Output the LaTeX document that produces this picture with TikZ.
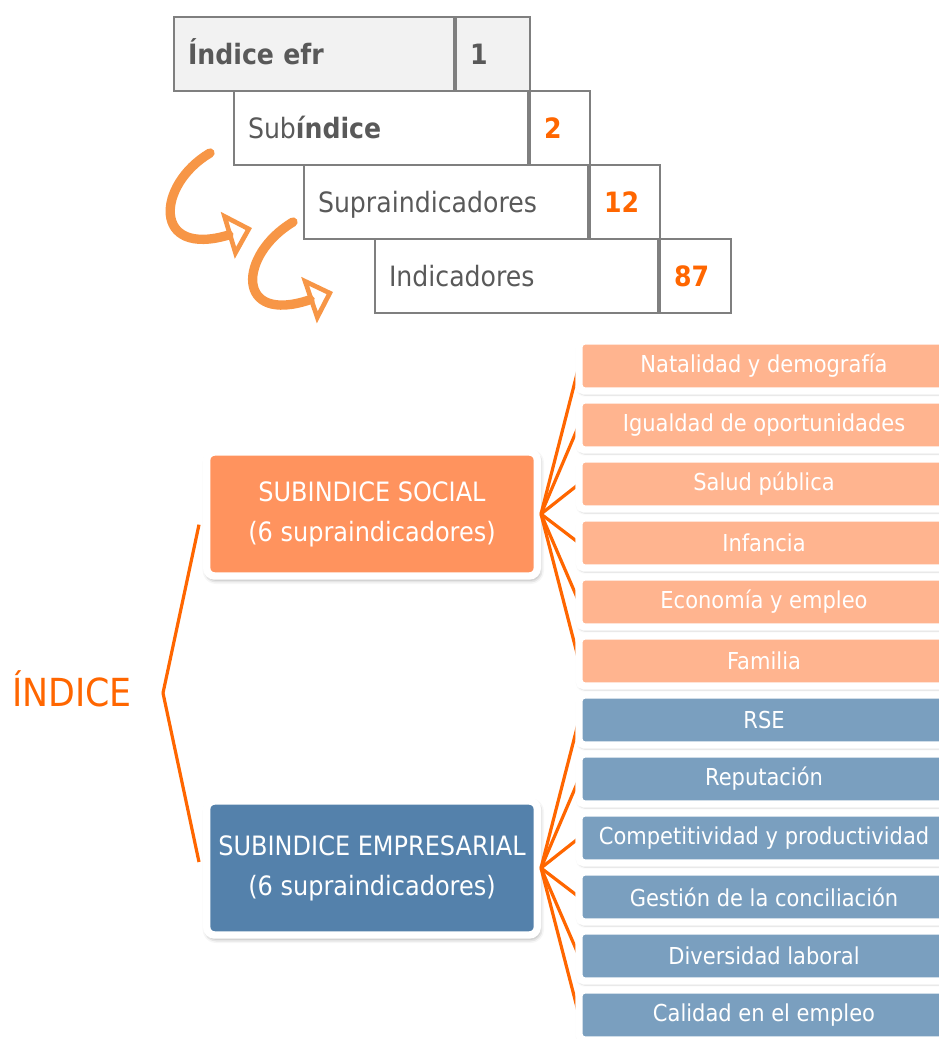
\documentclass[tikz,border=0pt]{standalone}
\usepackage{fontspec}
\setmainfont{DejaVu Sans}[FakeStretch=0.9]
\usetikzlibrary{positioning}
\usetikzlibrary{arrows.meta}
\usetikzlibrary{shadows.blur}

\definecolor{efrorange}{HTML}{FF6600}
\definecolor{arroworange}{HTML}{F79646}
\definecolor{cellgray}{HTML}{7F7F7F}
\definecolor{textgray}{HTML}{595959}
\definecolor{cellfill}{HTML}{F2F2F2}
\definecolor{socfill}{HTML}{FF935E}
\definecolor{socitem}{HTML}{FFB48F}
\definecolor{empfill}{HTML}{5481AB}
\definecolor{empitem}{HTML}{7A9FBF}

\begin{document}
\begin{tikzpicture}[x=0.75pt,y=-0.75pt,
	cell node/.style={draw=cellgray,line width=1.5pt,anchor=north west,
		minimum height=55.5pt,inner xsep=10.5pt,align=left,text=textgray,
		text height=19pt,text depth=4pt,
		font=\fontsize{21}{25}\selectfont},
	sub node/.style={draw=white,line width=5.5pt,rounded corners=6pt,
		text=white,align=center,inner sep=0pt,minimum width=248pt,
		font=\fontsize{20}{30}\selectfont,
		blur shadow={shadow xshift=1pt,shadow yshift=-2pt,shadow blur radius=4pt,shadow opacity=55}},
	item node/.style={draw=white,line width=5.5pt,rounded corners=4pt,
		text=white,minimum width=277.5pt,minimum height=37.5pt,inner sep=0pt,
		font=\fontsize{17.5}{20}\selectfont,
		blur shadow={shadow xshift=0.5pt,shadow yshift=-1.5pt,shadow blur radius=3pt,shadow opacity=45}},
	link/.style={draw=efrorange,line width=2.4pt},
	curvy/.style={draw=arroworange,line width=7pt,line cap=round,
		-{Triangle[open,length=19pt,width=36pt,line width=3.5pt]}}]
	
	\useasboundingbox (0,0) rectangle (939,1039);
	
	% levels table
	\node[cell node, fill=cellfill, text width=189pt] (efr) at (173,16) {\textbf{Índice efr}};
	\node[cell node, fill=cellfill, text width=34.5pt, right=0pt of efr] (efrN) {\textbf{1}};
	\node[cell node, text width=199.5pt] (sub) at (233,90) {Sub\textbf{índice}};
	\node[cell node, text width=24pt, text=efrorange, right=0pt of sub] (subN) {\textbf{2}};
	\node[cell node, text width=192pt] (supra) at (303,164) {Supraindicadores};
	\node[cell node, text width=31.5pt, text=efrorange, right=0pt of supra] (supraN) {\textbf{12}};
	\node[cell node, text width=191.25pt] (ind) at (374,238) {Indicadores};
	\node[cell node, text width=32.25pt, text=efrorange, right=0pt of ind] (indN) {\textbf{87}};
	
	\coordinate (a1) at (210,153);
	\coordinate (b1) at (252,228);
	\coordinate (a2) at (293,222);
	\coordinate (b2) at (333,292);
	\draw[curvy] (a1) .. controls (156,185) and (152,258) .. (b1);
	\draw[curvy] (a2) .. controls (238,255) and (235,325) .. (b2);
	
	% tree
	\node[anchor=base, text=efrorange, font=\fontsize{29}{32}\selectfont] (idx) at (72,706) {ÍNDICE};
	\coordinate (fork) at (163,693);
	
	\node[sub node, fill=socfill, minimum height=93pt] (soc) at (372,514)
		{SUBINDICE SOCIAL\\(6 supraindicadores)};
	\node[sub node, fill=empfill, minimum height=100.5pt] (emp) at (372,868)
		{SUBINDICE EMPRESARIAL\\(6 supraindicadores)};
	
	\path[link] (fork) edge ([xshift=-3pt,yshift=-8pt]soc.west)
	edge ([xshift=-3pt,yshift=4.5pt]emp.west);
	
	\coordinate (s1) at (764,366);
	\coordinate (s2) at (764,425);
	\coordinate (s3) at (764,484);
	\coordinate (s4) at (764,543);
	\coordinate (s5) at (764,602);
	\coordinate (s6) at (764,661);
	\coordinate (e1) at (764,720);
	\coordinate (e2) at (764,779);
	\coordinate (e3) at (764,838);
	\coordinate (e4) at (764,897);
	\coordinate (e5) at (764,956);
	\coordinate (e6) at (764,1015);
	
	\path[link] (soc.east) edge (s1 -| 579,0)
	edge (s2 -| 579,0)
	edge (s3 -| 579,0)
	edge (s4 -| 579,0)
	edge (s5 -| 579,0)
	edge (s6 -| 579,0);
	\path[link] (emp.east) edge (e1 -| 579,0)
	edge (e2 -| 579,0)
	edge (e3 -| 579,0)
	edge (e4 -| 579,0)
	edge (e5 -| 579,0)
	edge (e6 -| 579,0);
	
	\node[item node, fill=socitem] (nat) at (s1) {Natalidad y demografía};
	\node[item node, fill=socitem] (igu) at (s2) {Igualdad de oportunidades};
	\node[item node, fill=socitem] (sal) at (s3) {Salud pública};
	\node[item node, fill=socitem] (inf) at (s4) {Infancia};
	\node[item node, fill=socitem] (eco) at (s5) {Economía y empleo};
	\node[item node, fill=socitem] (fam) at (s6) {Familia};
	\node[item node, fill=empitem] (rse) at (e1) {RSE};
	\node[item node, fill=empitem] (rep) at (e2) {Reputación};
	\node[item node, fill=empitem] (com) at (e3) {Competitividad y productividad};
	\node[item node, fill=empitem] (ges) at (e4) {Gestión de la conciliación};
	\node[item node, fill=empitem] (div) at (e5) {Diversidad laboral};
	\node[item node, fill=empitem] (cal) at (e6) {Calidad en el empleo};
	
\end{tikzpicture}
\end{document}
